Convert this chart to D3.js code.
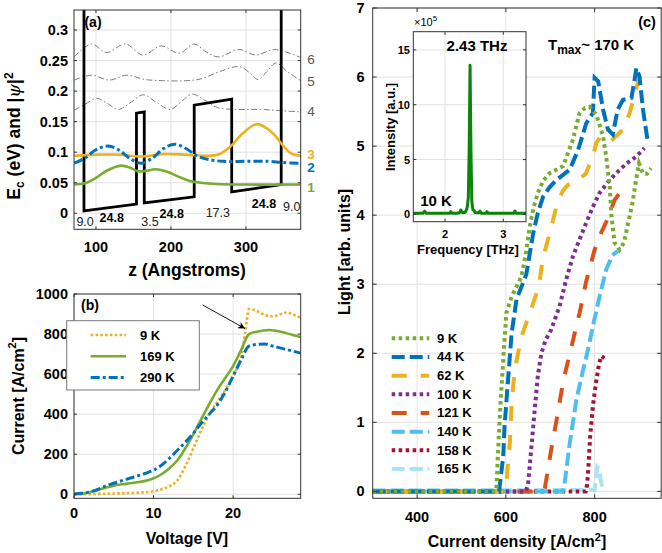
<!DOCTYPE html>
<html><head><meta charset="utf-8">
<script src="https://cdn.jsdelivr.net/npm/d3@7"></script>
<style>body{margin:0;background:#fff}svg{display:block}</style>
</head><body><svg id="c" width="662" height="553"></svg>
<script>
// ---------------- DATA ----------------
// Panel (a): conduction band profile and wavefunctions
const cbZ = [84, 84, 154, 154, 164.4, 164.4, 231, 231, 281, 281, 347, 347];
const cbE = [0.34, 0.004, 0.015, 0.164, 0.166, 0.017, 0.027, 0.177, 0.187, 0.035, 0.047, 0.34];
const psi1 = [[71,0.047],[85,0.049],[100,0.058],[115,0.070],[133,0.078],[145,0.075],[155,0.069],[165,0.069],[180,0.072],[195,0.068],[210,0.060],[225,0.053],[240,0.050],[260,0.048],[300,0.047],[373,0.047]];
const psi2 = [[71,0.082],[85,0.090],[100,0.104],[116,0.110],[130,0.104],[145,0.090],[160,0.082],[175,0.090],[190,0.106],[205,0.113],[220,0.106],[235,0.094],[250,0.088],[270,0.085],[300,0.085],[330,0.085],[350,0.083],[373,0.082]];
const psi3 = [[71,0.094],[100,0.096],[130,0.096],[160,0.093],[190,0.097],[220,0.096],[250,0.094],[265,0.097],[280,0.110],[295,0.130],[315,0.146],[335,0.132],[350,0.110],[360,0.098],[373,0.094]];
const psi4 = [[71,0.169],[85,0.178],[101,0.188],[115,0.180],[130,0.170],[147,0.182],[163,0.194],[180,0.182],[199,0.170],[214,0.183],[228,0.195],[245,0.185],[262,0.173],[290,0.170],[320,0.170],[345,0.168],[373,0.166]];
const psi5 = [[71,0.218],[94,0.226],[118,0.218],[141,0.226],[165,0.219],[190,0.217],[220,0.217],[240,0.220],[265,0.232],[291,0.240],[305,0.230],[316,0.219],[328,0.232],[340,0.246],[355,0.232],[373,0.217]];
const psi6 = [[71,0.256],[94,0.277],[114,0.263],[139,0.277],[163,0.259],[187,0.274],[211,0.262],[231,0.277],[247,0.264],[263,0.256],[291,0.268],[313,0.259],[338,0.268],[373,0.255]];
const levelNames = ["6","5","4","3","2","1"];
const levelLabelE = [0.252, 0.216, 0.167, 0.097, 0.075, 0.043];
const layerText = ["9.0","24.8","3.5","24.8","17.3","24.8","9.0"];
const layerZ = [85.5, 121, 172, 201, 262.5, 324, 361];
const layerE = [-0.0137, -0.0077, -0.0137, -0.0010, 0.0005, 0.0150, 0.0100];
const layerBold = [false,true,false,true,false,true,false];
const aXTicks = [100, 200, 300];
const aYTicks = [0, 0.05, 0.1, 0.15, 0.2, 0.25, 0.3];
const aYTickLabels = ["0","0.05","0.1","0.15","0.2","0.25","0.3"];

// Panel (b): current-voltage
const iv9K = [[0,0],[2,1],[4,3],[6,5],[8,8],[10,15],[11,25],[12,40],[13,70],[14,140],[15,230],[16,320],[17,400],[18,460],[19,520],[20,590],[21,690],[21.5,800],[22,925],[23,915],[24,895],[25,888],[26,900],[26.7,908],[27.5,898],[28.5,882]];
const iv169K = [[0,0],[1,3],[2,10],[3,22],[4,33],[5,43],[6,50],[7,55],[8,60],[9,67],[10,80],[11,100],[12,130],[13,170],[14,230],[15,300],[16,375],[17,450],[18,520],[19,580],[20,640],[21,720],[22,800],[23,812],[24.5,820],[26,812],[27.5,795],[28.5,785]];
const iv290K = [[0,2],[1,5],[2,12],[3,25],[4,42],[5,55],[6,68],[7,80],[8,92],[9,105],[10,120],[11,145],[12,180],[13,220],[14,260],[15,305],[16,355],[17,400],[18,445],[19,510],[20,590],[21,670],[22,740],[23,748],[24,750],[25,740],[26.5,725],[28.5,705]];
const bLegend = ["9 K","169 K","290 K"];
const bXTicks = [0, 10, 20];
const bYTicks = [0, 200, 400, 600, 800, 1000];

// Panel (c): light vs current density
const L9K = [[300,0],[577,0],[579,0.07],[583,0.65],[588,1.28],[595,2.0],[601,2.58],[613,2.82],[635,3.11],[644,3.4],[654,3.84],[662,4.1],[672,4.32],[684,4.5],[699,4.61],[729,4.71],[740,4.9],[751,5.09],[766,5.48],[778,5.55],[789,5.57],[804,5.45],[819,5.14],[826,4.85],[834,4.42],[838,3.98],[845,3.6],[856,3.5],[866,3.6],[876,3.9],[886,4.2],[893,4.5],[900,4.75],[909,4.6],[918,4.6],[927,4.68]];
const L44K = [[300,0],[585,0],[586,0.07],[594,0.5],[597,0.94],[605,1.62],[613,2.29],[624,2.78],[646,3.14],[654,3.45],[662,3.75],[672,4.03],[684,4.27],[698,4.4],[714,4.51],[744,4.66],[763,4.95],[781,5.33],[796,5.48],[800,5.99],[808,5.94],[819,5.53],[830,5.24],[841,5.17],[852,5.53],[864,5.67],[883,5.70],[890,5.96],[894,6.13],[901,6.01],[909,5.53],[920,5.05]];
const L62K = [[300,0],[598,0],[601,0.12],[609,0.7],[613,1.28],[620,1.76],[635,2.24],[654,2.58],[668,2.85],[676,3.04],[684,3.4],[699,3.74],[714,4.13],[728,4.35],[740,4.44],[759,4.49],[780,4.6],[796,4.85],[804,5.05],[815,5.15],[826,5.17],[841,5.1],[864,5.24],[879,5.48],[890,5.75],[901,6.0],[912,6.03],[924,5.96]];
const L100K = [[300,0],[645,0],[650,0.1],[657,0.6],[665,1.18],[672,1.67],[680,2.0],[690,2.2],[702,2.34],[721,2.68],[736,3.07],[751,3.4],[766,3.65],[781,3.89],[796,4.12],[811,4.32],[830,4.48],[849,4.61],[872,4.75],[894,4.85],[912,4.97]];
const L121K = [[300,0],[685,0],[688,0.05],[702,0.6],[717,1.13],[729,1.59],[748,2.1],[766,2.58],[781,3.04],[800,3.5],[815,3.75],[826,3.9],[834,4.03],[845,4.22],[856,4.32],[868,4.36],[879,4.33]];
const L140K = [[300,0],[728,0],[732,0.1],[744,0.7],[759,1.33],[774,1.76],[785,2.05],[796,2.39],[811,2.82],[826,3.21],[840,3.42],[852,3.48]];
const L158K = [[300,0],[780,0],[783,0.1],[786,0.35],[790,0.8],[796,1.23],[803,1.57],[810,1.85],[815,1.96],[822,1.93]];
const L165K = [[300,0.02],[800,0.02],[803,0.2],[806,0.35],[810,0.32],[814,0.15],[818,0.05]];
const cLegend = ["9 K","44 K","62 K","100 K","121 K","140 K","158 K","165 K"];
const cXTicks = [400, 600, 800];
const cYTicks = [0,1,2,3,4,5,6,7];

// Inset spectrum
const specF = [1.45,1.55,1.62,1.65,1.68,1.8,1.95,2.08,2.1,2.12,2.2,2.25,2.27,2.3,2.35,2.38,2.40,2.415,2.43,2.445,2.46,2.48,2.5,2.52,2.58,2.6,2.62,2.7,2.72,2.74,2.9,3.1,3.18,3.2,3.22,3.4];
const specI = [0.1,0.1,0.1,0.3,0.1,0.1,0.1,0.1,0.25,0.1,0.1,0.15,0.4,0.15,0.2,0.6,1.5,6,13.6,6,1.2,0.4,0.35,0.15,0.15,0.3,0.1,0.1,0.25,0.1,0.1,0.1,0.1,0.3,0.1,0.1];
const inXTicks = [2, 3];
const inYTicks = [0, 5, 10, 15];

// ---------------- DRAWING ----------------
const F = '"Liberation Sans", Arial, Helvetica, sans-serif';
const svg = d3.select('#c');
const GRID = '#e2e2e2', AX = '#333';

function grid(g, x, y, xt, yt) {
  const [x0,x1] = x.range(), [y0,y1] = y.range();
  g.selectAll(null).data(xt).join('line').attr('x1',d=>x(d)).attr('x2',d=>x(d)).attr('y1',y0).attr('y2',y1).attr('stroke',GRID);
  g.selectAll(null).data(yt).join('line').attr('y1',d=>y(d)).attr('y2',d=>y(d)).attr('x1',x0).attr('x2',x1).attr('stroke',GRID);
}
function box(g, x, y, xt, yt, tl) {
  const [x0,x1] = x.range(), [y0,y1] = y.range();
  g.append('rect').attr('x',x0).attr('y',y1).attr('width',x1-x0).attr('height',y0-y1).attr('fill','none').attr('stroke',AX).attr('stroke-width',1);
  xt.forEach(d=>{
    g.append('line').attr('x1',x(d)).attr('x2',x(d)).attr('y1',y0).attr('y2',y0-tl).attr('stroke',AX);
    g.append('line').attr('x1',x(d)).attr('x2',x(d)).attr('y1',y1).attr('y2',y1+tl).attr('stroke',AX);
  });
  yt.forEach(d=>{
    g.append('line').attr('y1',y(d)).attr('y2',y(d)).attr('x1',x0).attr('x2',x0+tl).attr('stroke',AX);
    g.append('line').attr('y1',y(d)).attr('y2',y(d)).attr('x1',x1).attr('x2',x1-tl).attr('stroke',AX);
  });
}
function txt(g, s, x, y, o={}) {
  return g.append('text').attr('x',x).attr('y',y).text(s)
    .attr('font-family',F).attr('font-size',o.size||14.5).attr('font-weight',o.weight||'bold')
    .attr('fill',o.fill||'#000').attr('text-anchor',o.anchor||'middle').attr('dominant-baseline',o.base||'central');
}
function tickLabels(g, x, y, xt, yt, xl, yl, xOff, yOff, size) {
  xt.forEach((d,i)=>txt(g, xl?xl[i]:String(d), x(d), y.range()[0]+yOff, {size}));
  yt.forEach((d,i)=>txt(g, yl?yl[i]:String(d), x.range()[0]-xOff, y(d), {size, anchor:'end'}));
}

// ===== Panel (a) =====
{
  const g = svg.append('g');
  const x = d3.scaleLinear().domain([70.7, 373]).range([74, 300.7]);
  const y = d3.scaleLinear().domain([-0.0262, 0.3327]).range([229.3, 10]);
  grid(g, x, y, aXTicks, aYTicks);
  svg.append('clipPath').attr('id','clipA').append('rect').attr('x',74).attr('y',10).attr('width',226.7).attr('height',219.3);
  const pg = g.append('g').attr('clip-path','url(#clipA)');
  const ln = d3.line().x(d=>x(d[0])).y(d=>y(d[1])).curve(d3.curveCatmullRom.alpha(0.5));
  [psi6, psi5, psi4].forEach(p=>pg.append('path').attr('d',ln(p)).attr('fill','none').attr('stroke','#6e6e6e').attr('stroke-width',0.9).attr('stroke-dasharray','6,2.5,1.5,2.5'));
  pg.append('path').attr('d', d3.line().x(d=>x(d[0])).y(d=>y(d[1]))(cbZ.map((z,i)=>[z,cbE[i]])))
    .attr('fill','none').attr('stroke','#000').attr('stroke-width',2.8).attr('stroke-linejoin','miter');
  pg.append('path').attr('d',ln(psi1)).attr('fill','none').attr('stroke','#77ac30').attr('stroke-width',2.6);
  pg.append('path').attr('d',ln(psi3)).attr('fill','none').attr('stroke','#edb120').attr('stroke-width',2.6);
  pg.append('path').attr('d',ln(psi2)).attr('fill','none').attr('stroke','#0072bd').attr('stroke-width',3).attr('stroke-dasharray','9,3,3,3');
  layerText.forEach((s,i)=>txt(g, s, x(layerZ[i]), y(layerE[i]), {size:12.5, weight: layerBold[i]?'bold':'normal', fill: layerBold[i]?'#000':'#222'}));
  box(g, x, y, aXTicks, aYTicks, 3);
  tickLabels(g, x, y, aXTicks, aYTicks, null, aYTickLabels, 6, 18, 14.5);
  const lc = ['#555','#555','#555','#edb120','#0072bd','#77ac30'];
  levelNames.forEach((s,i)=>txt(g, s, 311, y(levelLabelE[i]), {size:13.5, weight: i<3?'normal':'bold', fill: lc[i]}));
  txt(g, '(a)', 93, 22, {size:14});
  txt(g, 'z (Angstroms)', 187, 270, {size:17.5});
  const yl = g.append('text').attr('transform','translate(20,136) rotate(-90)').attr('text-anchor','middle')
    .attr('font-family',F).attr('font-size',17.5).attr('font-weight','bold');
  yl.append('tspan').text('E');
  yl.append('tspan').text('c').attr('font-size',12).attr('dy',4);
  yl.append('tspan').text(' (eV) and |').attr('dy',-4);
  yl.append('tspan').text('ψ').attr('font-style','italic').attr('font-family','"DejaVu Serif", serif').attr('font-weight','normal');
  yl.append('tspan').text('|');
  yl.append('tspan').text('2').attr('font-size',12).attr('dy',-7);
}

// ===== Panel (b) =====
{
  const g = svg.append('g');
  const x = d3.scaleLinear().domain([0, 28.5]).range([74, 300.7]);
  const y = d3.scaleLinear().domain([-20, 1000]).range([498.3, 294]);
  grid(g, x, y, bXTicks, bYTicks);
  const ln = d3.line().x(d=>x(d[0])).y(d=>y(d[1])).curve(d3.curveMonotoneX);
  const styles = [
    {d: iv9K, c:'#edb120', w:2.6, da:'2.6,2.2'},
    {d: iv169K, c:'#77ac30', w:2.6, da:null},
    {d: iv290K, c:'#0072bd', w:3, da:'9,3,3,3'}];
  const cg = g.append('g');
  styles.forEach(s=>cg.append('path').attr('d',ln(s.d)).attr('fill','none').attr('stroke',s.c).attr('stroke-width',s.w).attr('stroke-dasharray',s.da));
  box(g, x, y, bXTicks, bYTicks, 3);
  tickLabels(g, x, y, bXTicks, bYTicks, null, null, 6, 15, 14.5);
  // arrow
  svg.append('defs').append('marker').attr('id','arr').attr('viewBox','0 0 10 10').attr('refX',10).attr('refY',5)
    .attr('markerWidth',10).attr('markerHeight',7).attr('markerUnits','userSpaceOnUse').attr('orient','auto')
    .append('path').attr('d','M0,0 L10,5 L0,10 L3,5 Z').attr('fill','#000');
  g.append('line').attr('x1',202.7).attr('y1',305).attr('x2',245).attr('y2',328.5).attr('stroke','#000').attr('stroke-width',0.9).attr('marker-end','url(#arr)');
  // legend
  const lg = g.append('g');
  lg.append('rect').attr('x',66.7).attr('y',320.7).attr('width',132.6).attr('height',69.3).attr('fill','#fff').attr('stroke','#7a7a7a');
  bLegend.forEach((s,i)=>{
    const yy = 335 + i*21.3;
    lg.append('line').attr('x1',90.7).attr('x2',126).attr('y1',yy).attr('y2',yy).attr('stroke',styles[i].c).attr('stroke-width',styles[i].w).attr('stroke-dasharray',styles[i].da);
    txt(lg, s, 140, yy, {size:13, anchor:'start'});
  });
  txt(g, '(b)', 90, 305, {size:14});
  txt(g, 'Voltage [V]', 187, 538, {size:16});
  const yl = g.append('text').attr('transform','translate(18,396) rotate(-90)').attr('text-anchor','middle').attr('dominant-baseline','central')
    .attr('font-family',F).attr('font-size',16).attr('font-weight','bold');
  yl.append('tspan').text('Current [A/cm');
  yl.append('tspan').text('2').attr('font-size',11).attr('dy',-6);
  yl.append('tspan').text(']').attr('dy',6);
}

// ===== Panel (c) =====
{
  const g = svg.append('g');
  const x = d3.scaleLinear().domain([300, 950]).range([372.7, 661.2]);
  const y = d3.scaleLinear().domain([-0.1, 7]).range([498.3, 8]);
  grid(g, x, y, cXTicks, cYTicks);
  const ln = d3.line().x(d=>x(d[0])).y(d=>y(d[1]));
  const cs = [
    {d:L9K, c:'#77ac30', da:'3.5,3.5'},
    {d:L44K, c:'#0072bd', da:'13,5'},
    {d:L62K, c:'#edb120', da:'15,14'},
    {d:L100K, c:'#7e2f8e', da:'3.5,3.5'},
    {d:L121K, c:'#d95319', da:'15,14'},
    {d:L140K, c:'#4dbeee', da:'13,5'},
    {d:L158K, c:'#a2142f', da:'3.5,3.5'},
    {d:L165K, c:'#a8e3f7', da:'13,5'}];
  const cg = g.append('g');
  cs.slice().reverse().forEach(s=>cg.append('path').attr('d',ln(s.d)).attr('fill','none').attr('stroke',s.c).attr('stroke-width',4).attr('stroke-dasharray',s.da));
  box(g, x, y, cXTicks, cYTicks, 4);
  tickLabels(g, x, y, cXTicks, cYTicks, null, null, 8, 18.5, 14.5);
  // legend
  cLegend.forEach((s,i)=>{
    const yy = 338.3 + i*18.67;
    g.append('line').attr('x1',391.7).attr('x2',429.3).attr('y1',yy).attr('y2',yy).attr('stroke',cs[i].c).attr('stroke-width',4).attr('stroke-dasharray',cs[i].da);
    txt(g, s, 437, yy, {size:13, anchor:'start'});
  });
  txt(g, '(c)', 647, 22, {size:14.5});
  const tm = g.append('text').attr('x',548).attr('y',50).attr('font-family',F).attr('font-size',15).attr('font-weight','bold');
  tm.append('tspan').text('T');
  tm.append('tspan').text('max').attr('font-size',12).attr('dy',4);
  tm.append('tspan').text('~ 170 K').attr('dy',-4);
  const xl = g.append('text').attr('x',517).attr('y',547).attr('text-anchor','middle').attr('font-family',F).attr('font-size',16).attr('font-weight','bold');
  xl.append('tspan').text('Current density [A/cm');
  xl.append('tspan').text('2').attr('font-size',11).attr('dy',-6);
  xl.append('tspan').text(']').attr('dy',6);
  g.append('text').attr('transform','translate(344,252) rotate(-90)').attr('text-anchor','middle').attr('dominant-baseline','central')
    .attr('font-family',F).attr('font-size',16).attr('font-weight','bold').text('Light [arb. units]');

  // inset
  const ig = svg.append('g');
  const ix = d3.scaleLinear().domain([1.456, 3.39]).range([413.3, 526]);
  const iy = d3.scaleLinear().domain([-0.67, 16.66]).range([221.7, 31.7]);
  ig.append('rect').attr('x',413.3).attr('y',31.7).attr('width',112.7).attr('height',190).attr('fill','#fff');
  grid(ig, ix, iy, inXTicks, inYTicks);
  svg.append('clipPath').attr('id','clipI').append('rect').attr('x',413.3).attr('y',31.7).attr('width',112.7).attr('height',190);
  ig.append('path').attr('clip-path','url(#clipI)').attr('d', d3.line().x(d=>ix(d[0])).y(d=>iy(d[1]))(specF.map((f,i)=>[f,specI[i]])))
    .attr('fill','none').attr('stroke','#0a850a').attr('stroke-width',3).attr('stroke-linejoin','round');
  box(ig, ix, iy, inXTicks, inYTicks, 3);
  inXTicks.forEach(d=>txt(ig, String(d), ix(d), 234, {size:11}));
  inYTicks.forEach(d=>txt(ig, String(d), 410, iy(d), {size:11, anchor:'end'}));
  const ex = ig.append('text').attr('x',414).attr('y',26).attr('font-family',F).attr('font-size',11).attr('font-weight','normal');
  ex.append('tspan').text('×10');
  ex.append('tspan').text('5').attr('font-size',8).attr('dy',-5);
  txt(ig, '2.43 THz', 477, 45, {size:15});
  txt(ig, '10 K', 436, 200, {size:15});
  txt(ig, 'Frequency [THz]', 468, 249, {size:13});
  ig.append('text').attr('transform','translate(390,127) rotate(-90)').attr('text-anchor','middle').attr('dominant-baseline','central')
    .attr('font-family',F).attr('font-size',13).attr('font-weight','bold').text('Intensity [a.u.]');
}
</script></body></html>
